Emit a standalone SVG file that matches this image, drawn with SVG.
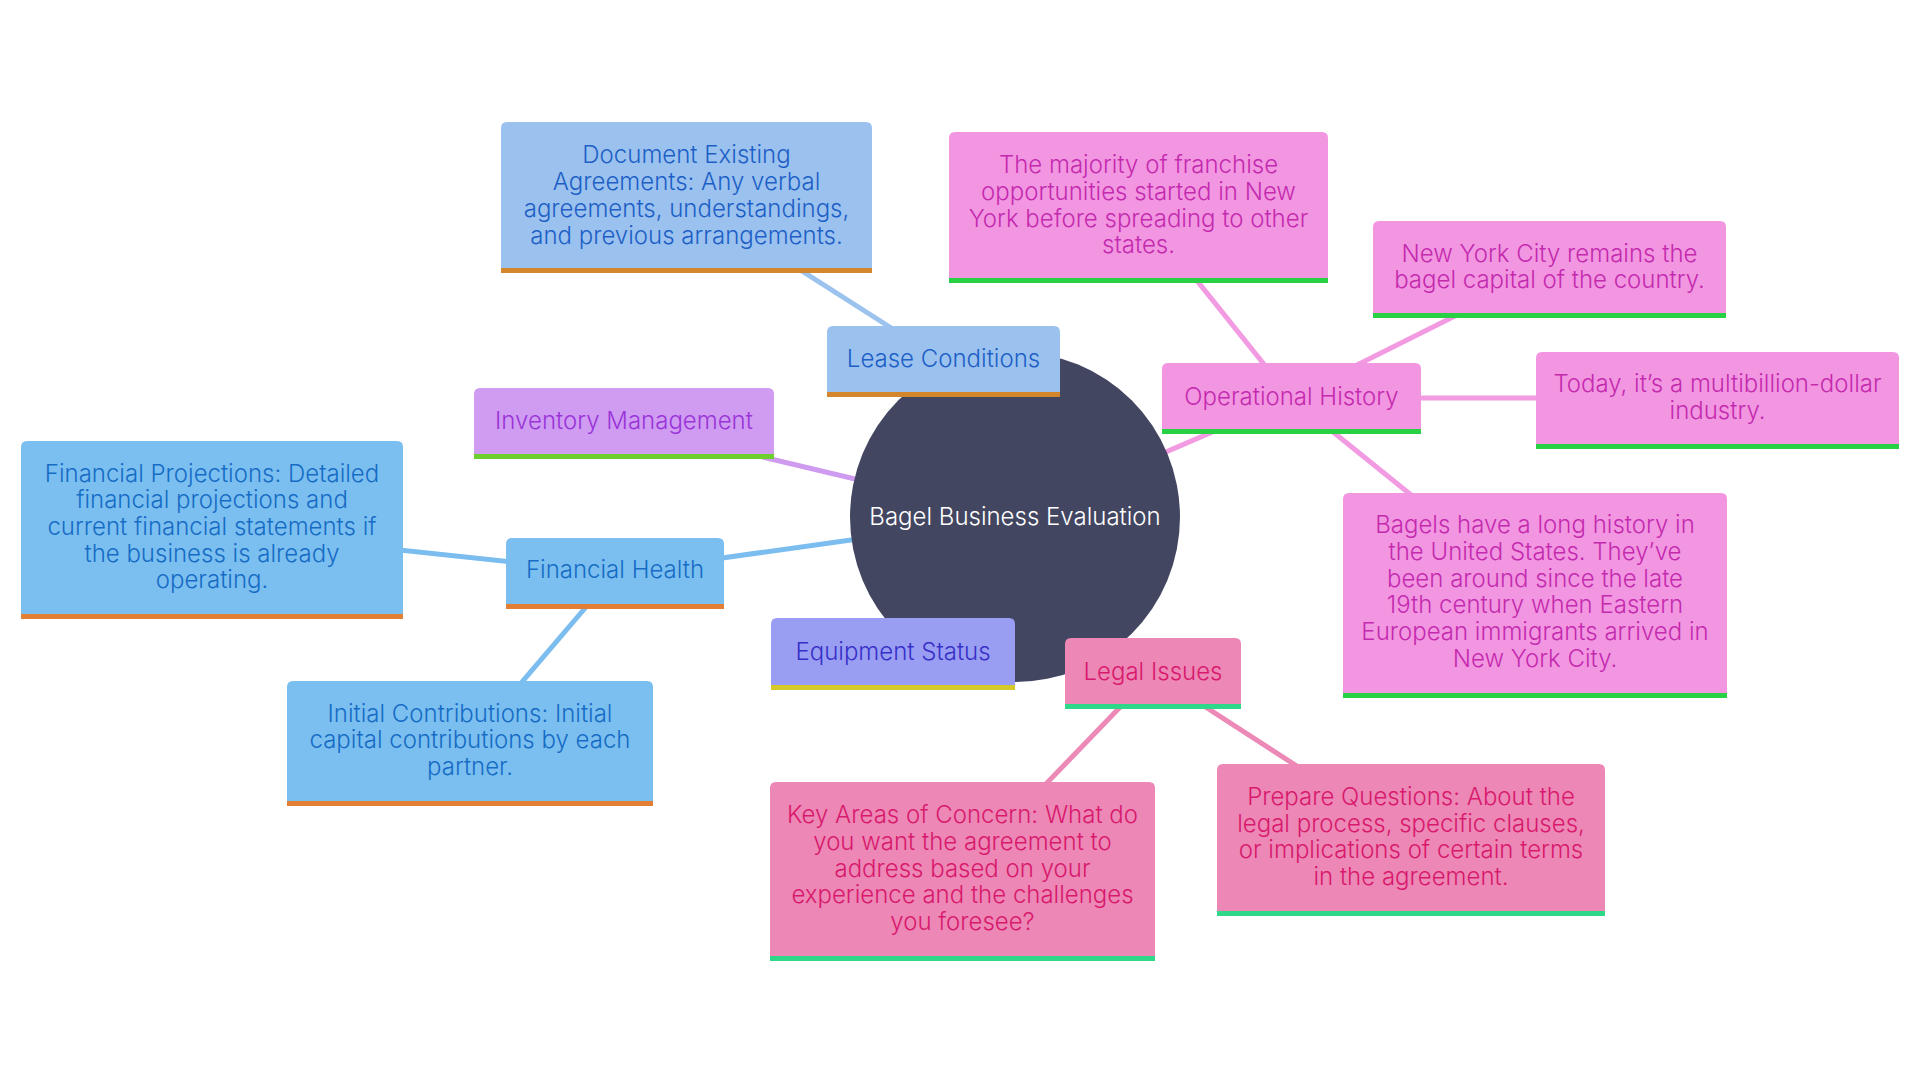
<svg xmlns="http://www.w3.org/2000/svg" width="1920" height="1080" viewBox="0 0 1920 1080">
<style>
text{font-family:Inter,"Noto Sans","Liberation Sans",sans-serif;font-size:24px;font-weight:300;text-anchor:middle}
.e{fill:none;stroke-width:5;stroke-linecap:round}
.eL{stroke:#9cc3ee}.eF{stroke:#7cbdf0}.eI{stroke:#cf9bf0}.eO{stroke:#f29be2}.eG{stroke:#ec89b6}.eE{stroke:#9a9ef2}
.fL{fill:#9bc2ef}.bL{fill:#d4862c}.tL{fill:#1d5fc6}
.fF{fill:#7bbff1}.bF{fill:#e27f35}.tF{fill:#166cc4}
.fI{fill:#cf9cf2}.bI{fill:#6ccf2e}.tI{fill:#9a34d8}
.fE{fill:#9a9ef2}.bE{fill:#d6c92a}.tE{fill:#3730c8}
.fO{fill:#f296e2}.bO{fill:#28d044}.tO{fill:#c42aae}
.fG{fill:#ec87b6}.bG{fill:#2ed888}.tG{fill:#d8196c}
</style>
<rect width="1920" height="1080" fill="#ffffff"/>
<g id="connectors">
<line class="e eL" x1="1015" y1="517" x2="943" y2="361"/>
<line class="e eI" x1="1015" y1="517" x2="624" y2="424"/>
<line class="e eF" x1="1015" y1="517" x2="615" y2="573"/>
<line class="e eE" x1="1015" y1="517" x2="893" y2="654"/>
<line class="e eG" x1="1015" y1="517" x2="1153" y2="673"/>
<line class="e eO" x1="1015" y1="517" x2="1291" y2="398"/>
<line class="e eL" x1="943" y1="361" x2="686" y2="197"/>
<line class="e eF" x1="615" y1="573" x2="212" y2="530"/>
<line class="e eF" x1="615" y1="573" x2="470" y2="743"/>
<line class="e eO" x1="1291" y1="398" x2="1138" y2="207"/>
<line class="e eO" x1="1291" y1="398" x2="1549" y2="269"/>
<line class="e eO" x1="1291" y1="398" x2="1717" y2="398"/>
<line class="e eO" x1="1291" y1="398" x2="1535" y2="595"/>
<line class="e eG" x1="1153" y1="673" x2="962" y2="871"/>
<line class="e eG" x1="1153" y1="673" x2="1411" y2="840"/>
</g>
<g id="root">
<circle cx="1015" cy="517" r="165" fill="#424660"/>
<text x="1015" y="525" fill="#ffffff">Bagel Business Evaluation</text>
</g>
<g id="lease">
<path class="fL" d="M827,397V332Q827,326 833,326H1054Q1060,326 1060,332V397Z"/>
<rect class="bL" x="827" y="392" width="233" height="5"/>
<text class="tL" x="943.5" y="367">Lease Conditions</text>
</g>
<g id="document">
<path class="fL" d="M501,273V128Q501,122 507,122H866Q872,122 872,128V273Z"/>
<rect class="bL" x="501" y="268" width="371" height="5"/>
<text class="tL" x="686.5" y="163">Document Existing</text>
<text class="tL" x="686.5" y="190">Agreements: Any verbal</text>
<text class="tL" x="686.5" y="217">agreements, understandings,</text>
<text class="tL" x="686.5" y="244">and previous arrangements.</text>
</g>
<g id="inventory">
<path class="fI" d="M474,459V394Q474,388 480,388H768Q774,388 774,394V459Z"/>
<rect class="bI" x="474" y="454" width="300" height="5"/>
<text class="tI" x="624" y="429">Inventory Management</text>
</g>
<g id="finhealth">
<path class="fF" d="M506,609V544Q506,538 512,538H718Q724,538 724,544V609Z"/>
<rect class="bF" x="506" y="604" width="218" height="5"/>
<text class="tF" x="615" y="578">Financial Health</text>
</g>
<g id="finproj">
<path class="fF" d="M21,619V447Q21,441 27,441H397Q403,441 403,447V619Z"/>
<rect class="bF" x="21" y="614" width="382" height="5"/>
<text class="tF" x="212" y="482">Financial Projections: Detailed</text>
<text class="tF" x="212" y="508">financial projections and</text>
<text class="tF" x="212" y="535">current financial statements if</text>
<text class="tF" x="212" y="562">the business is already</text>
<text class="tF" x="212" y="588">operating.</text>
</g>
<g id="initial">
<path class="fF" d="M287,806V687Q287,681 293,681H647Q653,681 653,687V806Z"/>
<rect class="bF" x="287" y="801" width="366" height="5"/>
<text class="tF" x="470" y="722">Initial Contributions: Initial</text>
<text class="tF" x="470" y="748">capital contributions by each</text>
<text class="tF" x="470" y="775">partner.</text>
</g>
<g id="equipment">
<path class="fE" d="M771,690V624Q771,618 777,618H1009Q1015,618 1015,624V690Z"/>
<rect class="bE" x="771" y="685" width="244" height="5"/>
<text class="tE" x="893" y="660">Equipment Status</text>
</g>
<g id="operational">
<path class="fO" d="M1162,434V369Q1162,363 1168,363H1415Q1421,363 1421,369V434Z"/>
<rect class="bO" x="1162" y="429" width="259" height="5"/>
<text class="tO" x="1291.5" y="405">Operational History</text>
</g>
<g id="majority">
<path class="fO" d="M949,283V138Q949,132 955,132H1322Q1328,132 1328,138V283Z"/>
<rect class="bO" x="949" y="278" width="379" height="5"/>
<text class="tO" x="1138.5" y="173">The majority of franchise</text>
<text class="tO" x="1138.5" y="200">opportunities started in New</text>
<text class="tO" x="1138.5" y="227">York before spreading to other</text>
<text class="tO" x="1138.5" y="253">states.</text>
</g>
<g id="nyc">
<path class="fO" d="M1373,318V227Q1373,221 1379,221H1720Q1726,221 1726,227V318Z"/>
<rect class="bO" x="1373" y="313" width="353" height="5"/>
<text class="tO" x="1549.5" y="262">New York City remains the</text>
<text class="tO" x="1549.5" y="288">bagel capital of the country.</text>
</g>
<g id="today">
<path class="fO" d="M1536,449V358Q1536,352 1542,352H1893Q1899,352 1899,358V449Z"/>
<rect class="bO" x="1536" y="444" width="363" height="5"/>
<text class="tO" x="1717.5" y="392">Today, it’s a multibillion-dollar</text>
<text class="tO" x="1717.5" y="419">industry.</text>
</g>
<g id="bagels">
<path class="fO" d="M1343,698V499Q1343,493 1349,493H1721Q1727,493 1727,499V698Z"/>
<rect class="bO" x="1343" y="693" width="384" height="5"/>
<text class="tO" x="1535" y="533">Bagels have a long history in</text>
<text class="tO" x="1535" y="560">the United States. They’ve</text>
<text class="tO" x="1535" y="587">been around since the late</text>
<text class="tO" x="1535" y="613">19th century when Eastern</text>
<text class="tO" x="1535" y="640">European immigrants arrived in</text>
<text class="tO" x="1535" y="667">New York City.</text>
</g>
<g id="legal">
<path class="fG" d="M1065,709V644Q1065,638 1071,638H1235Q1241,638 1241,644V709Z"/>
<rect class="bG" x="1065" y="704" width="176" height="5"/>
<text class="tG" x="1153" y="680">Legal Issues</text>
</g>
<g id="keyareas">
<path class="fG" d="M770,961V788Q770,782 776,782H1149Q1155,782 1155,788V961Z"/>
<rect class="bG" x="770" y="956" width="385" height="5"/>
<text class="tG" x="962.5" y="823">Key Areas of Concern: What do</text>
<text class="tG" x="962.5" y="850">you want the agreement to</text>
<text class="tG" x="962.5" y="877">address based on your</text>
<text class="tG" x="962.5" y="903">experience and the challenges</text>
<text class="tG" x="962.5" y="930">you foresee?</text>
</g>
<g id="prepare">
<path class="fG" d="M1217,916V770Q1217,764 1223,764H1599Q1605,764 1605,770V916Z"/>
<rect class="bG" x="1217" y="911" width="388" height="5"/>
<text class="tG" x="1411" y="805">Prepare Questions: About the</text>
<text class="tG" x="1411" y="832">legal process, specific clauses,</text>
<text class="tG" x="1411" y="858">or implications of certain terms</text>
<text class="tG" x="1411" y="885">in the agreement.</text>
</g>
</svg>
